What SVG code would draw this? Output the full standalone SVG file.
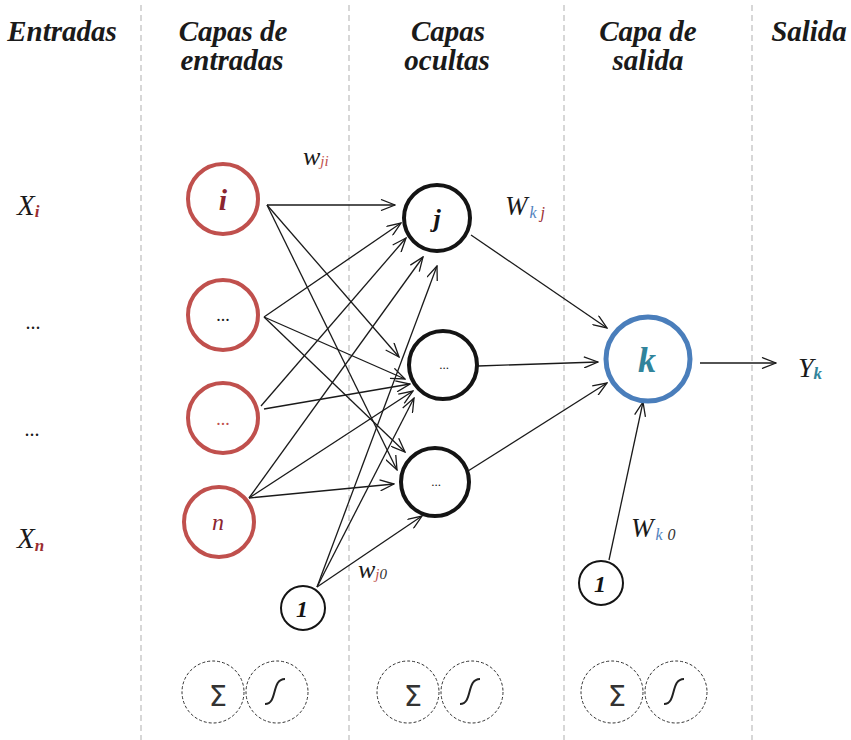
<svg xmlns="http://www.w3.org/2000/svg" width="851" height="740" viewBox="0 0 851 740">
<style>
.hdr{font-family:"Liberation Serif",serif;font-weight:bold;font-style:italic;font-size:29px;fill:#1a1a1a;text-anchor:middle}
.div{stroke:#bdbdbd;stroke-width:1.2;stroke-dasharray:6,4}
.inp{fill:#fff;stroke:#c0504d;stroke-width:4}
.hid{fill:#fff;stroke:#141414;stroke-width:4}
.out{fill:#fff;stroke:#4a7ebb;stroke-width:5}
.bias{fill:#fff;stroke:#141414;stroke-width:2}
.op{fill:#fff;stroke:#333;stroke-width:1;stroke-dasharray:3,2}
.e{stroke:#1a1a1a;stroke-width:1.3;fill:none;marker-end:url(#ah)}
.it{font-family:"Liberation Serif",serif;font-style:italic;fill:#1a1a1a}
.bi{font-family:"Liberation Serif",serif;font-style:italic;font-weight:bold}
.dots{font-family:"Liberation Serif",serif;fill:#1a1a1a;text-anchor:middle}
.sig{fill:none;stroke:#222;stroke-width:2}
.sum{font-family:"DejaVu Sans",sans-serif;font-size:29px;fill:#333;text-anchor:middle}
</style>
<defs>
<marker id="ah" viewBox="0 0 16 12" refX="15" refY="6" markerWidth="16" markerHeight="12" orient="auto" markerUnits="userSpaceOnUse">
<path d="M1,0.5 L15,6 L1,11.5" fill="none" stroke="#1a1a1a" stroke-width="1.3"/>
</marker>
</defs>
<rect width="851" height="740" fill="#fff"/>

<g id="dividers">
<line class="div" x1="141" y1="5" x2="141" y2="740"/>
<line class="div" x1="349" y1="5" x2="349" y2="740"/>
<line class="div" x1="564" y1="5" x2="564" y2="740"/>
<line class="div" x1="752" y1="5" x2="752" y2="740"/>
</g>

<g id="headers">
<text class="hdr" x="62" y="41">Entradas</text>
<text class="hdr" x="233" y="41">Capas de</text>
<text class="hdr" x="232" y="70">entradas</text>
<text class="hdr" x="448" y="41">Capas</text>
<text class="hdr" x="447" y="70">ocultas</text>
<text class="hdr" x="648" y="41">Capa de</text>
<text class="hdr" x="648" y="70">salida</text>
<text class="hdr" x="809" y="41">Salida</text>
</g>

<g id="inputs-labels">
<text class="it" x="17" y="215" font-size="29">X<tspan class="bi" font-size="17" fill="#9b2d30" dy="2">i</tspan></text>
<text class="dots" x="33" y="329" font-size="20">...</text>
<text class="dots" x="32" y="436" font-size="20">...</text>
<text class="it" x="17" y="548" font-size="29">X<tspan class="bi" font-size="17" fill="#9b2d30" dy="3">n</tspan></text>
</g>

<g id="connectors">
<line class="e" x1="267" y1="205" x2="395" y2="205"/>
<line class="e" x1="267" y1="205" x2="399" y2="357"/>
<line class="e" x1="267" y1="205" x2="397" y2="470"/>
<line class="e" x1="264" y1="317" x2="401" y2="223"/>
<line class="e" x1="264" y1="317" x2="405" y2="379"/>
<line class="e" x1="264" y1="317" x2="405" y2="452"/>
<line class="e" x1="261" y1="406" x2="406" y2="238"/>
<line class="e" x1="264" y1="409" x2="410" y2="384"/>
<line class="e" x1="249" y1="498" x2="423" y2="257"/>
<line class="e" x1="249" y1="498" x2="413" y2="391"/>
<line class="e" x1="249" y1="498" x2="394" y2="484"/>
<line class="e" x1="317" y1="587" x2="437" y2="266"/>
<line class="e" x1="317" y1="587" x2="414" y2="398"/>
<line class="e" x1="317" y1="587" x2="422" y2="516"/>
<line class="e" x1="471" y1="235" x2="607" y2="328"/>
<line class="e" x1="478" y1="366" x2="598" y2="362"/>
<line class="e" x1="468" y1="471" x2="607" y2="383"/>
<line class="e" x1="609" y1="560" x2="643" y2="402"/>
<line class="e" x1="700" y1="363" x2="776" y2="363"/>
</g>

<g id="weights">
<text class="it" x="303" y="165" font-size="26">w<tspan font-size="15" fill="#c0504d" dy="1">ji</tspan></text>
<text class="it" x="358" y="578" font-size="26">w<tspan font-size="15" fill="#c0504d" dy="1">j</tspan><tspan font-size="15" fill="#333">0</tspan></text>
<text class="it" x="505" y="215" font-size="27">W<tspan font-size="16" fill="#4f81bd" dx="2" dy="3">k</tspan><tspan font-size="16" fill="#9b2d30" dx="4">j</tspan></text>
<text class="it" x="631" y="537" font-size="27">W<tspan font-size="16" fill="#4f81bd" dx="2" dy="3">k</tspan><tspan font-size="16" fill="#333" dx="5">0</tspan></text>
</g>

<g id="node-i">
<circle class="inp" cx="223" cy="199" r="35"/>
<text class="bi" x="223" y="210" font-size="30" fill="#8b2530" text-anchor="middle">i</text>
</g>
<g id="node-in2">
<circle class="inp" cx="223" cy="315" r="35"/>
<text class="dots" x="223" y="321" font-size="18">...</text>
</g>
<g id="node-in3">
<circle class="inp" cx="223" cy="418" r="35"/>
<text class="dots" x="223" y="425" font-size="18" style="fill:#c0504d">...</text>
</g>
<g id="node-n">
<circle class="inp" cx="219" cy="522" r="35"/>
<text class="it" x="218" y="530" font-size="24" text-anchor="middle" style="fill:#8b2530">n</text>
</g>
<g id="node-bias1">
<circle class="bias" cx="303" cy="608" r="22"/>
<text class="bi" x="302" y="617" font-size="24" fill="#141414" text-anchor="middle">1</text>
</g>
<g id="node-j">
<circle class="hid" cx="437" cy="218" r="33"/>
<text class="bi" x="437" y="227" font-size="26" fill="#141414" text-anchor="middle">j</text>
</g>
<g id="node-h2">
<circle class="hid" cx="443" cy="365" r="34"/>
<text class="dots" x="444" y="369" font-size="13">...</text>
</g>
<g id="node-h3">
<circle class="hid" cx="435" cy="482" r="34"/>
<text class="dots" x="436" y="486" font-size="13">...</text>
</g>
<g id="node-k">
<circle class="out" cx="648" cy="359" r="42"/>
<text class="bi" x="647" y="372" font-size="36" fill="#31849b" text-anchor="middle">k</text>
</g>
<g id="node-bias2">
<circle class="bias" cx="601" cy="583" r="22"/>
<text class="bi" x="600" y="592" font-size="24" fill="#141414" text-anchor="middle">1</text>
</g>

<g id="output-label">
<text class="it" x="798" y="377" font-size="28">Y<tspan class="bi" font-size="17" fill="#31849b" dy="2">k</tspan></text>
</g>

<g id="ops1">
<circle class="op" cx="213" cy="692" r="31"/>
<text class="sum" x="218" y="706">Σ</text>
<circle class="op" cx="277" cy="692" r="31"/>
<path class="sig" d="M265,704 C278,704 271,679 285,679"/>
</g>
<g id="ops2">
<circle class="op" cx="408" cy="692" r="31"/>
<text class="sum" x="413" y="706">Σ</text>
<circle class="op" cx="472" cy="692" r="31"/>
<path class="sig" d="M460,704 C473,704 466,679 480,679"/>
</g>
<g id="ops3">
<circle class="op" cx="612" cy="692" r="31"/>
<text class="sum" x="617" y="706">Σ</text>
<circle class="op" cx="676" cy="692" r="31"/>
<path class="sig" d="M664,704 C677,704 670,679 684,679"/>
</g>
</svg>
